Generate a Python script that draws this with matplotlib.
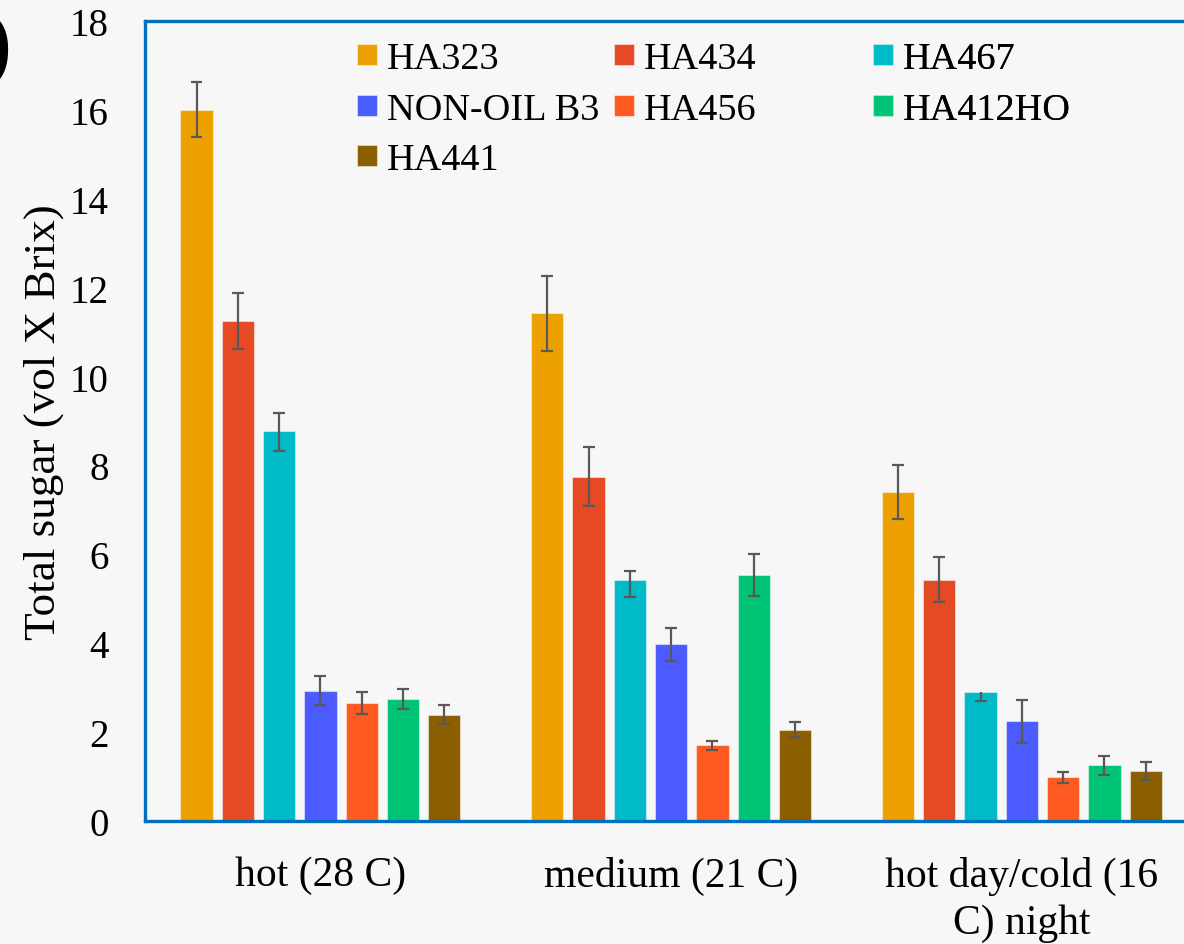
import matplotlib.pyplot as plt
import numpy as np

plt.rcParams['font.family'] = ['Liberation Serif', 'DejaVu Serif']

# data
categories = ['hot (28 C)', 'medium (21 C)', 'hot day/cold (16\nC) night']
series = ['HA323', 'HA434', 'HA467', 'NON-OIL B3', 'HA456', 'HA412HO', 'HA441']

ha323 = [16.0, 11.42, 7.40]
ha434 = [11.24, 7.75, 5.43]
ha467 = [8.78, 5.43, 2.90]
nonoil_b3 = [2.93, 3.98, 2.24]
ha456 = [2.66, 1.70, 0.98]
ha412ho = [2.75, 5.53, 1.25]
ha441 = [2.39, 2.05, 1.12]

# error bars (lower, upper)
ha323_lo, ha323_hi = [0.60, 0.85, 0.60], [0.62, 0.85, 0.60]
ha434_lo, ha434_hi = [0.63, 0.67, 0.50], [0.63, 0.67, 0.50]
ha467_lo, ha467_hi = [0.45, 0.38, 0.20], [0.39, 0.20, 0.0]
nonoil_b3_lo, nonoil_b3_hi = [0.33, 0.37, 0.48], [0.33, 0.37, 0.48]
ha456_lo, ha456_hi = [0.25, 0.10, 0.13], [0.25, 0.11, 0.13]
ha412ho_lo, ha412ho_hi = [0.23, 0.47, 0.22], [0.23, 0.47, 0.22]
ha441_lo, ha441_hi = [0.21, 0.17, 0.20], [0.21, 0.17, 0.20]

values = [ha323, ha434, ha467, nonoil_b3, ha456, ha412ho, ha441]
errs_lo = [ha323_lo, ha434_lo, ha467_lo, nonoil_b3_lo, ha456_lo, ha412ho_lo, ha441_lo]
errs_hi = [ha323_hi, ha434_hi, ha467_hi, nonoil_b3_hi, ha456_hi, ha412ho_hi, ha441_hi]

colors = ['#EDA100', '#E54A25', '#00BAC8', '#4B5BFF', '#FF5A22', '#00C475', '#8B5E00']

bg = '#F7F7F7'
frame_blue = '#0070C0'
err_col = '#595959'

fig = plt.figure(figsize=(11.84, 9.45), dpi=100, facecolor=bg)
ax = fig.add_axes([145 / 1184, 123 / 945, 1052.25 / 1184, 800 / 945])
ax.set_facecolor(bg)

x = np.arange(len(categories))
step = 0.1177
width = 0.0921
cap = 0.017

handles = []
for i, (name, vals, lo, hi, c) in enumerate(zip(series, values, errs_lo, errs_hi, colors)):
    xs = x + (i - 3) * step
    vals = np.array(vals)
    lo = np.array(lo)
    hi = np.array(hi)
    b = ax.bar(xs, vals, width, color=c, edgecolor=(1, 1, 1, 0.45), linewidth=0.8,
               label=name, zorder=2)
    handles.append(b)
    ax.vlines(xs, vals - lo, vals + hi, color=err_col, linewidth=1.6, zorder=3)
    ax.hlines(vals - lo, xs - cap, xs + cap, color=err_col, linewidth=1.6, zorder=3)
    top = hi > 0
    ax.hlines((vals + hi)[top], (xs - cap)[top], (xs + cap)[top], color=err_col,
              linewidth=1.6, zorder=3)

ax.set_xlim(-0.5, 2.5)
ax.set_ylim(0, 18)
ax.set_yticks(np.arange(0, 19, 2))
ax.set_xticks(x)
ax.set_xticklabels(categories, fontsize=30, linespacing=1.3)
ax.tick_params(axis='y', length=0, pad=26, labelsize=28)
ax.tick_params(axis='x', length=0, pad=25)

for side in ['top', 'left', 'bottom']:
    ax.spines[side].set_color(frame_blue)
    ax.spines[side].set_linewidth(2.4)
ax.spines['right'].set_visible(False)

ax.set_ylabel('Total sugar (vol X Brix)', fontsize=32.5)
ax.yaxis.set_label_coords(-0.077, 0.5)

# legend laid out in three fixed columns
cols = [[0, 3, 6], [1, 4], [2, 5]]
col_x = [0.2015, 0.4457, 0.6919]
for idx, cx in zip(cols, col_x):
    leg = ax.legend([handles[k] for k in idx], [series[k] for k in idx],
                    loc='upper left', bbox_to_anchor=(cx, 0.974), frameon=False,
                    fontsize=27.5, handlelength=0.53, handleheight=0.46,
                    handletextpad=0.25, labelspacing=0.42, borderpad=0,
                    borderaxespad=0)
    ax.add_artist(leg)

# cut-off panel letter at the top left
fig.text(14 / 1184, (945 - 92) / 945, 'D', ha='right', va='baseline',
         fontsize=92, fontweight='bold')

plt.savefig('out.png', dpi=100, facecolor=bg)
